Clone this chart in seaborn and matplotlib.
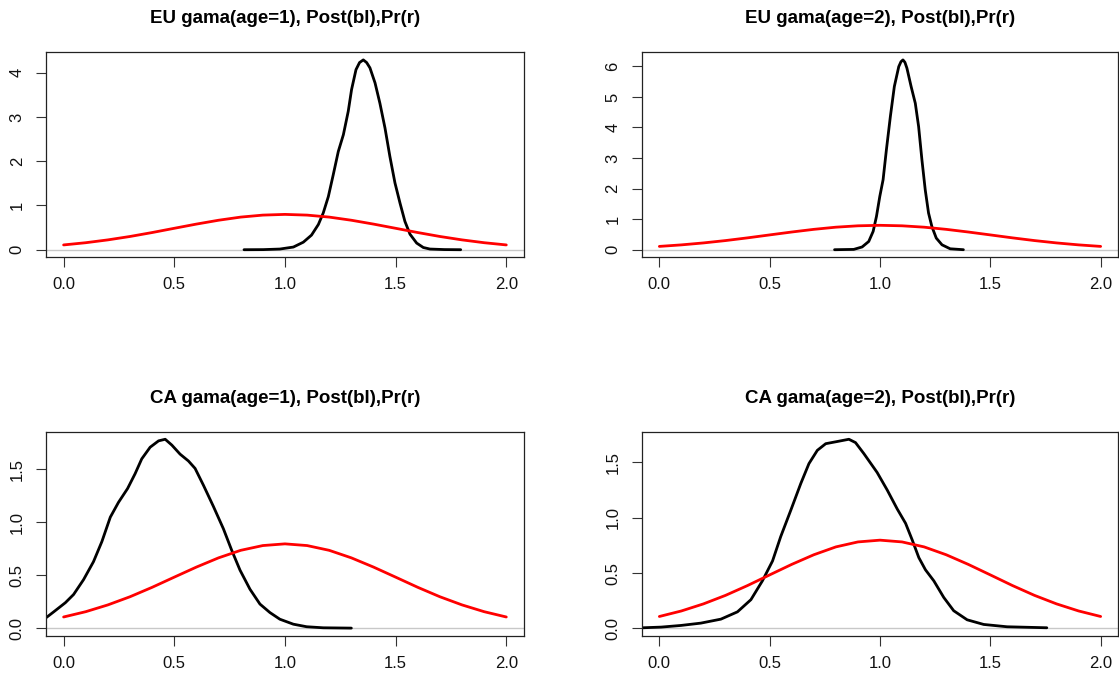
import matplotlib
matplotlib.use("Agg")
import matplotlib.pyplot as plt
import seaborn as sns

# ---- data ----
titles = [
    "EU gama(age=1), Post(bl),Pr(r)",
    "EU gama(age=2), Post(bl),Pr(r)",
    "CA gama(age=1), Post(bl),Pr(r)",
    "CA gama(age=2), Post(bl),Pr(r)",
]

prior_x = [0.0, 0.1, 0.2, 0.3, 0.4, 0.5, 0.6, 0.7, 0.8, 0.9, 1.0,
           1.1, 1.2, 1.3, 1.4, 1.5, 1.6, 1.7, 1.8, 1.9, 2.0]
prior_y = [0.108, 0.158, 0.222, 0.299, 0.388, 0.484, 0.579, 0.666, 0.737, 0.782, 0.798,
           0.782, 0.737, 0.666, 0.579, 0.484, 0.388, 0.299, 0.222, 0.158, 0.108]

eu1_x = [0.815, 0.902, 0.977, 1.038, 1.083, 1.12, 1.151, 1.173, 1.196, 1.218, 1.241,
         1.264, 1.286, 1.301, 1.321, 1.337, 1.354, 1.369, 1.384, 1.407, 1.429, 1.452,
         1.474, 1.497, 1.52, 1.542, 1.565, 1.595, 1.625, 1.655, 1.72, 1.794]
eu1_y = [0.0, 0.002, 0.015, 0.06, 0.17, 0.33, 0.57, 0.83, 1.2, 1.69, 2.22,
         2.6, 3.13, 3.62, 4.07, 4.23, 4.29, 4.23, 4.11, 3.77, 3.31, 2.75,
         2.11, 1.51, 1.05, 0.64, 0.35, 0.15, 0.05, 0.015, 0.003, 0.0]

eu2_x = [0.794, 0.881, 0.919, 0.949, 0.969, 0.984, 0.999, 1.014, 1.029, 1.047, 1.065,
         1.085, 1.095, 1.104, 1.113, 1.122, 1.141, 1.16, 1.175, 1.19, 1.205, 1.22,
         1.235, 1.255, 1.281, 1.318, 1.378]
eu2_y = [0.0, 0.01, 0.09, 0.27, 0.6, 1.09, 1.74, 2.29, 3.27, 4.36, 5.34,
         5.99, 6.15, 6.21, 6.13, 5.94, 5.34, 4.79, 4.03, 2.94, 1.96, 1.2,
         0.76, 0.38, 0.16, 0.03, 0.0]

ca1_x = [-0.078, -0.045, 0.008, 0.045, 0.09, 0.135, 0.173, 0.211, 0.248, 0.289, 0.323,
         0.353, 0.391, 0.429, 0.459, 0.489, 0.526, 0.564, 0.594, 0.632, 0.677, 0.722,
         0.759, 0.797, 0.842, 0.887, 0.932, 0.977, 1.038, 1.098, 1.173, 1.3]
ca1_y = [0.103, 0.156, 0.243, 0.32, 0.46, 0.63, 0.82, 1.05, 1.19, 1.32, 1.46,
         1.6, 1.71, 1.77, 1.785, 1.73, 1.645, 1.58, 1.51, 1.35, 1.15, 0.94,
         0.74, 0.55, 0.37, 0.23, 0.15, 0.087, 0.04, 0.016, 0.006, 0.003]

ca2_x = [-0.075, 0.008, 0.098, 0.188, 0.279, 0.354, 0.415, 0.467, 0.513, 0.55, 0.596,
         0.641, 0.678, 0.716, 0.754, 0.807, 0.859, 0.889, 0.927, 0.987, 1.033, 1.078,
         1.116, 1.146, 1.176, 1.206, 1.244, 1.289, 1.334, 1.395, 1.47, 1.576, 1.756]
ca2_y = [0.006, 0.012, 0.027, 0.048, 0.084, 0.15, 0.26, 0.43, 0.61, 0.83, 1.07,
         1.31, 1.49, 1.61, 1.67, 1.69, 1.71, 1.68, 1.58, 1.41, 1.25, 1.08,
         0.95, 0.8, 0.64, 0.53, 0.43, 0.28, 0.16, 0.078, 0.036, 0.015, 0.006]

x_ticks = [0.0, 0.5, 1.0, 1.5, 2.0]
x_tick_labels = ["0.0", "0.5", "1.0", "1.5", "2.0"]
y_ticks_eu1 = [0, 1, 2, 3, 4]
y_labels_eu1 = ["0", "1", "2", "3", "4"]
y_ticks_eu2 = [0, 1, 2, 3, 4, 5, 6]
y_labels_eu2 = ["0", "1", "2", "3", "4", "5", "6"]
y_ticks_ca = [0.0, 0.5, 1.0, 1.5]
y_labels_ca = ["0.0", "0.5", "1.0", "1.5"]

# ---- styling ----
sns.set_theme(style="white")
plt.rcParams['font.family'] = ['Liberation Sans', 'DejaVu Sans']

fig = plt.figure(figsize=(11.19, 6.76), dpi=100)

W, H = 1119.0, 676.0
def pos(left, right, top, bottom):
    return [left / W, 1 - bottom / H, (right - left) / W, (bottom - top) / H]

panels = [
    (pos(45.9, 524.0, 52.3, 257.3), titles[0], eu1_x, eu1_y, y_ticks_eu1, y_labels_eu1),
    (pos(641.7, 1118.3, 52.3, 257.3), titles[1], eu2_x, eu2_y, y_ticks_eu2, y_labels_eu2),
    (pos(45.9, 524.0, 431.7, 636.0), titles[2], ca1_x, ca1_y, y_ticks_ca, y_labels_ca),
    (pos(641.7, 1118.3, 431.7, 636.0), titles[3], ca2_x, ca2_y, y_ticks_ca, y_labels_ca),
]

for p, title, bx, by, yt, yl in panels:
    ax = fig.add_axes(p)
    ax.axhline(0, color='#c8c8c8', lw=1.0, zorder=1)
    sns.lineplot(x=bx, y=by, ax=ax, color='black', lw=2.0, estimator=None,
                 sort=False, zorder=2)
    sns.lineplot(x=prior_x, y=prior_y, ax=ax, color='#ff0000', lw=2.0,
                 estimator=None, sort=False, zorder=3)
    ax.set_xlim(-0.08, 2.08)
    hi = max(by)
    ax.set_ylim(-0.04 * hi, 1.04 * hi)
    ax.set_xticks(x_ticks)
    ax.set_xticklabels(x_tick_labels)
    ax.set_yticks(yt)
    ax.set_yticklabels(yl)
    ax.set_xlabel('')
    ax.set_ylabel('')
    for s in ax.spines.values():
        s.set_visible(True)
        s.set_color('#222222')
        s.set_linewidth(0.9)
    ax.tick_params(bottom=True, left=True, direction='out', length=7.2, width=0.8,
                   color='#333333', labelsize=12, labelcolor='#111111')
    ax.tick_params(axis='x', pad=7)
    ax.tick_params(axis='y', pad=8, labelrotation=90)
    for lab in ax.get_yticklabels():
        lab.set_va('center')
    ax.set_title(title, fontsize=13.5, fontweight='bold', pad=21, color='black')
    ax.grid(False)

fig.savefig('out.png', dpi=100)
